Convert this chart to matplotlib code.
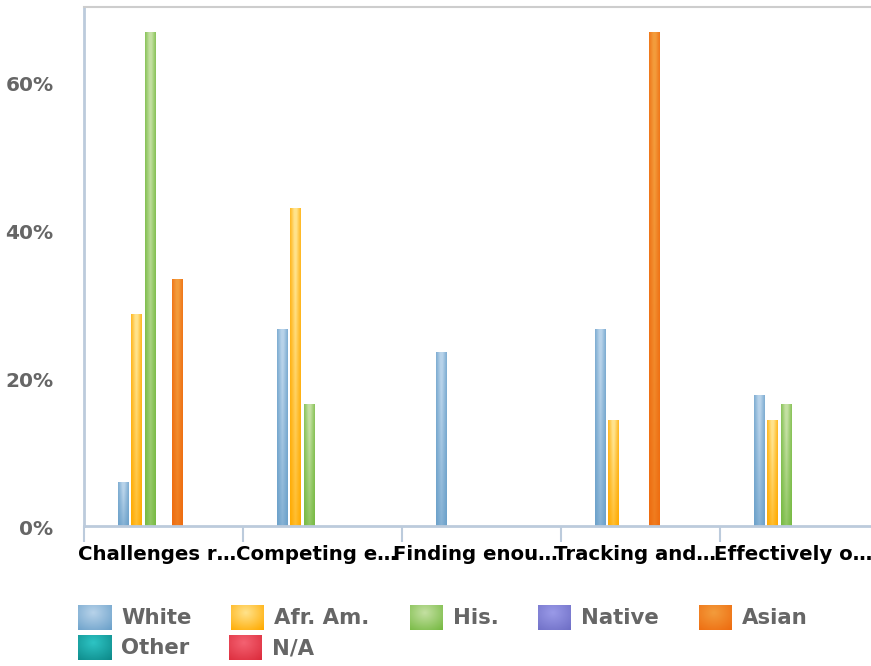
import numpy as np
import matplotlib
matplotlib.use("Agg")
import matplotlib.pyplot as plt
import matplotlib.transforms as mtransforms
from matplotlib.colors import to_rgb

# survey share by ethnicity, per challenge (percent)
categories = ["Challenges r\u2026", "Competing e\u2026", "Finding enou\u2026",
              "Tracking and\u2026", "Effectively o\u2026"]
series_names = ["White", "Afr. Am.", "His.", "Native", "Asian", "Other", "N/A"]
white = [5.9, 26.5, 23.5, 26.5, 17.6]
afr_am = [28.6, 42.9, 0, 14.3, 14.3]
his = [66.7, 16.4, 0, 0, 16.4]
native = [0, 0, 0, 0, 0]
asian = [33.3, 0, 0, 66.7, 0]
other = [0, 0, 0, 0, 0]
n_a = [0, 0, 0, 0, 0]
series_values = [white, afr_am, his, native, asian, other, n_a]
y_ticks = [0, 20, 40, 60]

# (dark edge, light highlight) for each series
palette = [("#6ca1ca", "#b8d3ea"), ("#ffaa00", "#ffe38c"), ("#77ba43", "#c4e0a2"),
           ("#6f6fc6", "#9a9ae8"), ("#ee6c10", "#f39c3c"), ("#0d8a8a", "#2ec4c4"),
           ("#dc2c3c", "#f46272")]

W, H = 871, 666
fig = plt.figure(figsize=(W / 100, H / 100), dpi=100)
ax = fig.add_axes([84 / W, 140.3 / H, 795 / W, 518.7 / H])


def bar_gradient(dark, light, n=64):
    d, l = np.array(to_rgb(dark)), np.array(to_rgb(light))
    u = np.linspace(0, 1, n)[None, :]
    v = np.linspace(1, 0, n)[:, None]
    w = (1 - np.abs(2 * u - 1)) ** 1.1 * (0.35 + 0.65 * v) + 0.25 * v
    w = np.clip(w, 0, 1)
    return d + (l - d) * w[..., None]


def radial_gradient(dark, light, n=48):
    d, l = np.array(to_rgb(dark)), np.array(to_rgb(light))
    yy, xx = np.mgrid[0:n, 0:n] / (n - 1)
    r = np.sqrt(((xx - 0.45) / 0.8) ** 2 + ((yy - 0.3) / 0.9) ** 2)
    w = np.clip(1 - r, 0, 1)
    return d + (l - d) * w[..., None]


x = np.arange(len(categories)) + 0.5
step, width = 0.085, 0.063
for k, vals in enumerate(series_values):
    bars = ax.bar(x + (k - 3) * step, vals, width=width, color="none", zorder=2)
    img = bar_gradient(*palette[k])
    for b in bars:
        if b.get_height() <= 0:
            continue
        ax.imshow(img, extent=[b.get_x(), b.get_x() + b.get_width(), 0, b.get_height()],
                  aspect="auto", interpolation="bilinear", zorder=2)

ax.set_xlim(0, len(categories))
ax.set_ylim(0, 70.1)

axis_col = "#bccbdc"
ax.spines["right"].set_visible(False)
ax.spines["top"].set_color("#cdcdcd")
ax.spines["top"].set_linewidth(1.5)
ax.spines["left"].set_color(axis_col)
ax.spines["bottom"].set_color(axis_col)
ax.spines["left"].set_linewidth(2)
ax.spines["bottom"].set_linewidth(2)

ax.set_yticks(y_ticks)
ax.set_yticklabels([f"{t}%" for t in y_ticks], color="#666666",
                   fontweight="bold", fontsize=14.5)
ax.tick_params(axis="y", length=0, pad=22)
shift_down = mtransforms.ScaledTranslation(0, -2 / 100, fig.dpi_scale_trans)
for lbl in ax.get_yticklabels():
    lbl.set_transform(lbl.get_transform() + shift_down)

ax.set_xticks(x)
ax.set_xticklabels(categories, fontweight="bold", fontsize=14.2, color="black")
ax.set_xticks(np.arange(len(categories) + 1), minor=True)
ax.tick_params(axis="x", which="major", length=0, pad=14)
ax.tick_params(axis="x", which="minor", length=11.5, width=1.5, color=axis_col,
               direction="out")
shift_left = mtransforms.ScaledTranslation(-6 / 100, 0, fig.dpi_scale_trans)
for lbl in ax.get_xticklabels():
    lbl.set_transform(lbl.get_transform() + shift_left)

# legend laid out in pixel space, flowing left to right
lax = fig.add_axes([0, 0, 1, 1], zorder=5)
lax.set_xlim(0, W)
lax.set_ylim(H, 0)
lax.axis("off")
renderer = fig.canvas.get_renderer()
rows = [series_names[:5], series_names[5:]]
row_top = [605, 635]
idx = 0
for r, names in enumerate(rows):
    xpos = 78
    for name in names:
        y0 = row_top[r]
        lax.imshow(radial_gradient(*palette[idx]), extent=[xpos, xpos + 33, y0 + 25, y0],
                   aspect="auto", interpolation="bilinear")
        t = lax.text(xpos + 43, y0 + 13, name, fontsize=15.3, fontweight="bold",
                     color="#666666", va="center", ha="left")
        bb = t.get_window_extent(renderer)
        xpos = bb.x1 + 40
        idx += 1
lax.set_xlim(0, W)
lax.set_ylim(H, 0)

fig.savefig("out.png", dpi=100)
